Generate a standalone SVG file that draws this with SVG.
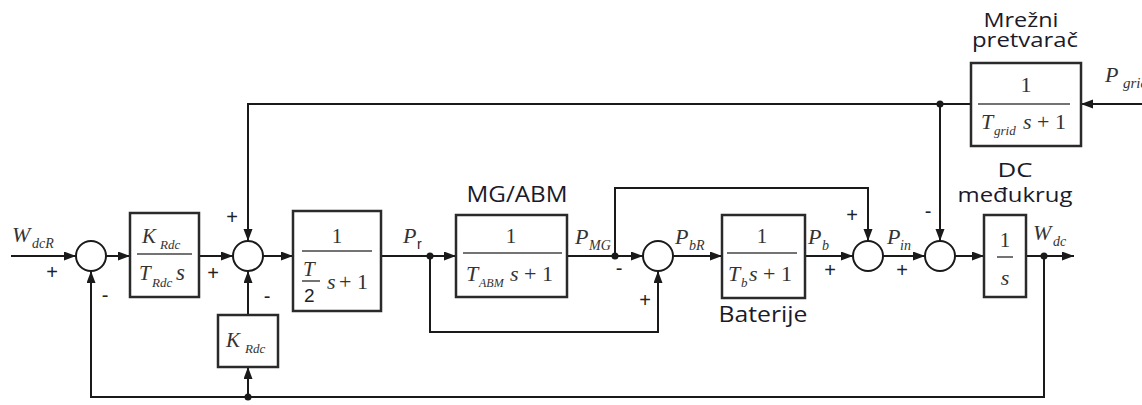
<svg xmlns="http://www.w3.org/2000/svg" width="1142" height="405" viewBox="0 0 1142 405">
<style>
.ln{fill:none;stroke:#1a1a1a;stroke-width:2}
.box{fill:#fff;stroke:#2a2a2a;stroke-width:2.5}
.sum{fill:#fff;stroke:#1a1a1a;stroke-width:2}
.bar{stroke:#444;stroke-width:1.5}
.m{font-family:"Liberation Serif",serif;font-style:italic;fill:#333}
.n{font-family:"Liberation Serif",serif;fill:#333}
.s{font-family:"Liberation Sans",sans-serif;fill:#222}
.lab{font-family:"Open Sans","Liberation Sans",sans-serif;fill:#1a1a2a}
.dot{fill:#1a1a1a}
</style>
<defs>
<marker id="ar" markerUnits="userSpaceOnUse" markerWidth="13" markerHeight="10" refX="12" refY="4.5" orient="auto">
<path d="M0,0 L12,4.5 L0,9 z" fill="#1a1a1a"/>
</marker>
</defs>
<g id="connectors">
<path class="ln" d="M11,256 H76" marker-end="url(#ar)"/>
<path class="ln" d="M106,256 H130" marker-end="url(#ar)"/>
<path class="ln" d="M199,256 H233" marker-end="url(#ar)"/>
<path class="ln" d="M263,256 H293" marker-end="url(#ar)"/>
<path class="ln" d="M381,256 H456" marker-end="url(#ar)"/>
<path class="ln" d="M430,256 V332 H658 V271" marker-end="url(#ar)"/>
<path class="ln" d="M567,256 H643" marker-end="url(#ar)"/>
<path class="ln" d="M615,256 V188 H868 V241" marker-end="url(#ar)"/>
<path class="ln" d="M673,256 H722" marker-end="url(#ar)"/>
<path class="ln" d="M805,256 H853" marker-end="url(#ar)"/>
<path class="ln" d="M883,256 H925" marker-end="url(#ar)"/>
<path class="ln" d="M955,256 H984" marker-end="url(#ar)"/>
<path class="ln" d="M1026,256 H1074" marker-end="url(#ar)"/>
<path class="ln" d="M1044,256 V397 H91 V271" marker-end="url(#ar)"/>
<path class="ln" d="M248,397 V367" marker-end="url(#ar)"/>
<path class="ln" d="M248,315 V271" marker-end="url(#ar)"/>
<path class="ln" d="M1142,104 H1081" marker-end="url(#ar)"/>
<path class="ln" d="M971,104 H248 V241" marker-end="url(#ar)"/>
<path class="ln" d="M940,104 V241" marker-end="url(#ar)"/>
<circle class="dot" cx="430" cy="256" r="3.5"/>
<circle class="dot" cx="615" cy="256" r="3.5"/>
<circle class="dot" cx="1044" cy="256" r="3.5"/>
<circle class="dot" cx="248" cy="397" r="3.5"/>
<circle class="dot" cx="940" cy="104" r="3.5"/>
</g>
<g id="signals">
<text class="m" x="12" y="242" font-size="22">W</text><text class="m" x="32" y="248" font-size="14">dcR</text>
<text class="m" x="403" y="243" font-size="22">P</text><text class="s" x="417" y="249" font-size="14">r</text>
<text class="m" x="575" y="244" font-size="22">P</text><text class="m" x="589" y="250" font-size="14">MG</text>
<text class="m" x="675" y="244" font-size="22">P</text><text class="m" x="689" y="250" font-size="14">bR</text>
<text class="m" x="808" y="244" font-size="22">P</text><text class="m" x="822" y="250" font-size="14">b</text>
<text class="m" x="887" y="244" font-size="22">P</text><text class="m" x="900" y="250" font-size="14">in</text>
<text class="m" x="1033" y="240" font-size="22">W</text><text class="m" x="1053" y="246" font-size="14">dc</text>
<text class="m" x="1105" y="82" font-size="22">P</text><text class="m" x="1123" y="88" font-size="15">grid</text>
</g>
<g id="signs" class="s" font-size="20" text-anchor="middle">
<text x="52" y="279">+</text>
<text x="105" y="302">-</text>
<text x="213" y="280">+</text>
<text x="232" y="224">+</text>
<text x="267" y="303">-</text>
<text x="619" y="275">-</text>
<text x="645" y="307">+</text>
<text x="830" y="277">+</text>
<text x="852" y="222">+</text>
<text x="902" y="277">+</text>
<text x="928" y="218">-</text>
</g>
<g id="sum1"><circle class="sum" cx="91" cy="256" r="15"/></g>
<g id="sum2"><circle class="sum" cx="248" cy="256" r="15"/></g>
<g id="sum3"><circle class="sum" cx="658" cy="256" r="15"/></g>
<g id="sum4"><circle class="sum" cx="868" cy="256" r="15"/></g>
<g id="sum5"><circle class="sum" cx="940" cy="256" r="15"/></g>
<g id="pi-controller">
<rect class="box" x="130" y="213" width="69" height="84"/>
<text class="m" x="142" y="243" font-size="21">K</text><text class="m" x="160" y="249" font-size="13">Rdc</text>
<line class="bar" x1="137" y1="254" x2="192" y2="254"/>
<text class="m" x="139" y="280" font-size="21">T</text><text class="m" x="152" y="287" font-size="13">Rdc</text><text class="m" x="176" y="280" font-size="23">s</text>
</g>
<g id="gain-krdc">
<rect class="box" x="218" y="315" width="60" height="52"/>
<text class="m" x="226" y="347" font-size="21">K</text><text class="m" x="245" y="353" font-size="13">Rdc</text>
</g>
<g id="delay-block">
<rect class="box" x="293" y="211" width="88" height="100"/>
<text class="n" x="337" y="243" font-size="21" text-anchor="middle">1</text>
<line class="bar" x1="302" y1="251" x2="372" y2="251"/>
<text class="m" x="303" y="276" font-size="21">T</text>
<line class="bar" x1="302" y1="281" x2="320" y2="281"/>
<text class="s" x="304" y="302" font-size="19" fill="#1f3a6e">2</text>
<text class="m" x="327" y="289" font-size="22">s</text><text class="n" x="339" y="289" font-size="22">+ 1</text>
</g>
<g id="mg-abm">
<text class="lab" x="517" y="202" font-size="22" text-anchor="middle" textLength="101" lengthAdjust="spacingAndGlyphs">MG/ABM</text>
<rect class="box" x="456" y="215" width="111" height="82"/>
<text class="n" x="511" y="243" font-size="21" text-anchor="middle">1</text>
<line class="bar" x1="463" y1="253" x2="562" y2="253"/>
<text class="m" x="466" y="281" font-size="22">T</text><text class="m" x="479" y="287" font-size="12">ABM</text><text class="m" x="510" y="281" font-size="22">s</text><text class="n" x="524" y="281" font-size="22">+ 1</text>
</g>
<g id="baterije">
<rect class="box" x="722" y="215" width="83" height="83"/>
<text class="n" x="762" y="243" font-size="21" text-anchor="middle">1</text>
<line class="bar" x1="727" y1="253" x2="797" y2="253"/>
<text class="m" x="728" y="281" font-size="22">T</text><text class="m" x="741" y="287" font-size="13">b</text><text class="m" x="749" y="281" font-size="22">s</text><text class="n" x="763" y="281" font-size="22">+ 1</text>
<text class="lab" x="763" y="322" font-size="21" text-anchor="middle" textLength="89" lengthAdjust="spacingAndGlyphs">Baterije</text>
</g>
<g id="dc-link">
<text class="lab" x="1015" y="177" font-size="20" text-anchor="middle" textLength="35" lengthAdjust="spacingAndGlyphs">DC</text>
<text class="lab" x="1015" y="202" font-size="20" text-anchor="middle" textLength="115" lengthAdjust="spacingAndGlyphs">međukrug</text>
<rect class="box" x="984" y="215" width="42" height="82"/>
<text class="n" x="1005" y="247" font-size="21" text-anchor="middle">1</text>
<line class="bar" x1="997" y1="257" x2="1013" y2="257"/>
<text class="m" x="1005" y="285" font-size="22" text-anchor="middle">s</text>
</g>
<g id="grid-converter">
<text class="lab" x="1021" y="27" font-size="20" text-anchor="middle" textLength="75" lengthAdjust="spacingAndGlyphs">Mrežni</text>
<text class="lab" x="1025" y="47" font-size="20" text-anchor="middle" textLength="106" lengthAdjust="spacingAndGlyphs">pretvarač</text>
<rect class="box" x="971" y="63" width="110" height="83"/>
<text class="n" x="1026" y="92" font-size="22" text-anchor="middle">1</text>
<line class="bar" x1="978" y1="104" x2="1070" y2="104"/>
<text class="m" x="981" y="129" font-size="22">T</text><text class="m" x="994" y="135" font-size="13">grid</text><text class="m" x="1023" y="129" font-size="22">s</text><text class="n" x="1037" y="129" font-size="22">+ 1</text>
</g>
</svg>
